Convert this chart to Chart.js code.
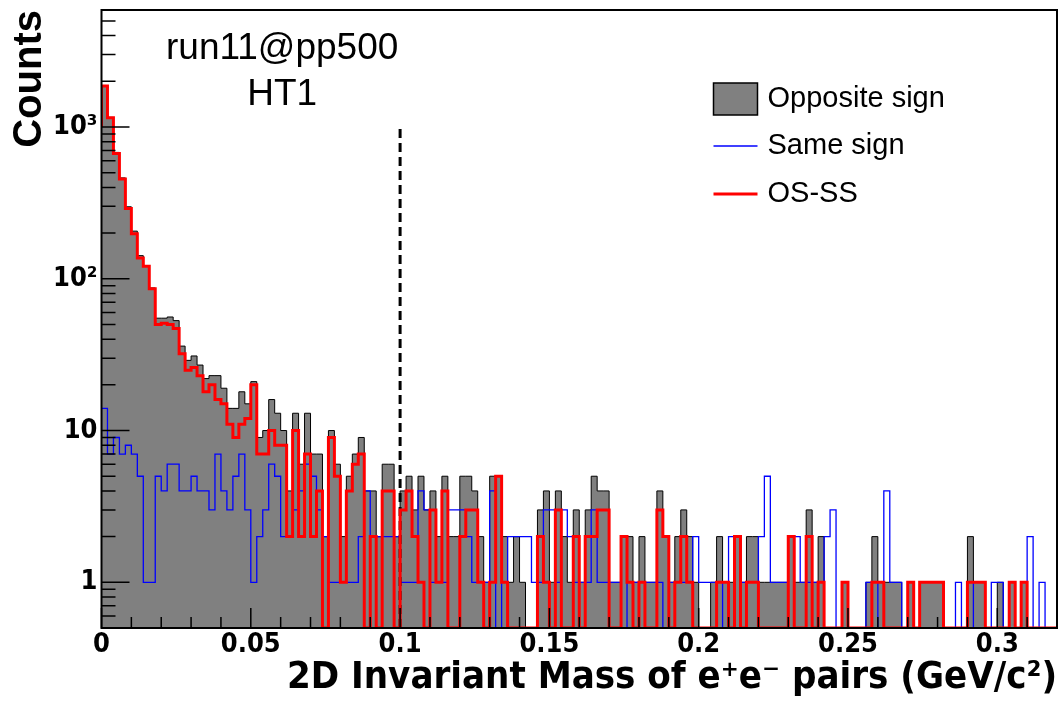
<!DOCTYPE html>
<html lang="en">
<head>
<meta charset="UTF-8">
<title>2D invariant mass of e+e- pairs</title>
<script src="https://cdn.jsdelivr.net/npm/chart.js"></script>
<style>
  html, body { margin: 0; padding: 0; background: #fff; }
</style>
</head>
<body>
<canvas id="massChart" width="1059" height="701"></canvas>
<script>
// histogram binning: 160 bins of 2 MeV from 0 to 0.32 GeV/c2
const binWidth = 0.002;
const xMax = 0.32;

// counts per bin
const oppositeSign = [
  1010, 1875, 1157, 680, 462, 298, 206, 142, 122, 87,
  55, 55, 56, 53, 36, 29, 31, 27, 22, 23,
  23, 19, 14, 14, 18, 15, 21, 9, 10, 16,
  13, 10, 4, 13, 6, 13, 7, 7, 2, 10,
  6, 2, 5, 7, 9, 4, 4, 2, 6, 6,
  2, 4, 5, 3, 5, 3, 4, 2, 5, 2,
  2, 5, 5, 4, 2, 1, 5, 5, 2, 1,
  2, 1, 0, 0, 3, 4, 1, 4, 2, 1,
  3, 1, 3, 5, 4, 4, 1, 1, 2, 2,
  1, 2, 1, 1, 4, 2, 1, 2, 3, 2,
  1, 0, 0, 1, 2, 1, 1, 2, 1, 2,
  2, 1, 1, 1, 1, 1, 2, 1, 1, 3,
  1, 2, 0, 0, 0, 1, 0, 0, 0, 1,
  2, 1, 1, 1, 1, 0, 1, 0, 1, 1,
  1, 1, 0, 0, 0, 0, 2, 1, 1, 0,
  0, 1, 0, 1, 0, 1, 0, 0, 0, 0
];
const sameSign = [
  9, 14, 7, 9, 7, 8, 7, 5, 1, 1,
  5, 4, 6, 6, 4, 4, 5, 4, 4, 3,
  7, 4, 3, 5, 7, 3, 1, 2, 3, 6,
  5, 2, 2, 3, 4, 6, 5, 3, 2, 1,
  1, 1, 1, 1, 2, 4, 2, 2, 2, 2,
  2, 1, 1, 1, 4, 3, 1, 1, 1, 3,
  3, 3, 2, 1, 1, 1, 4, 0, 1, 2,
  2, 2, 2, 1, 1, 3, 3, 1, 3, 2,
  1, 1, 1, 3, 1, 1, 1, 1, 0, 1,
  1, 1, 1, 1, 1, 0, 1, 1, 1, 1,
  2, 1, 1, 1, 1, 0, 2, 0, 1, 1,
  1, 2, 5, 1, 1, 1, 0, 2, 1, 1,
  1, 1, 2, 3, 0, 0, 0, 0, 0, 1,
  1, 0, 4, 1, 1, 0, 0, 0, 0, 0,
  0, 0, 0, 0, 1, 0, 1, 0, 0, 0,
  1, 1, 0, 0, 0, 0, 2, 0, 1, 0
];
const osMinusSs = [
  1000, 1860, 1150, 670, 455, 290, 198, 137, 121, 86,
  50, 51, 50, 47, 32, 25, 26, 23, 18, 20,
  16, 15, 11, 9, 11, 12, 20, 7, 7, 10,
  8, 8, 2, 10, 2, 7, 2, 4, 0, 9,
  5, 1, 4, 6, 7, 0, 2, 0, 4, 4,
  0, 3, 4, 2, 1, 0, 3, 1, 4, 0,
  0, 2, 3, 3, 1, 0, 1, 5, 1, 0,
  0, 0, 0, 0, 2, 1, 0, 3, 0, 0,
  2, 0, 2, 2, 3, 3, 0, 0, 2, 1,
  0, 1, 0, 0, 3, 2, 0, 1, 2, 1,
  0, 0, 0, 0, 1, 1, 0, 2, 0, 1,
  1, 0, 0, 0, 0, 0, 2, 0, 0, 2,
  0, 1, 0, 0, 0, 1, 0, 0, 0, 0,
  1, 1, 0, 0, 0, 0, 1, 0, 1, 1,
  1, 1, 0, 0, 0, 0, 1, 1, 1, 0,
  0, 0, 0, 1, 0, 1, 0, 0, 0, 0
];

// axes
const xTicks = [0, 0.05, 0.1, 0.15, 0.2, 0.25, 0.3];
const xTickLabels = ['0', '0.05', '0.1', '0.15', '0.2', '0.25', '0.3'];
const yTicks = [1, 10, 100, 1000];
const yTickLabels = ['1', '10', '10\u00B2', '10\u00B3'];
const yMin = 0.5;
const yMax = 5900;

// mass cut marker
const cutMass = 0.1;
const cutTop = 1000;

const narrowBold = "'Liberation Sans Narrow', 'Arial Narrow', 'DejaVu Sans Condensed', 'Liberation Sans', sans-serif";
const plainFont = "'Liberation Sans', Arial, Helvetica, sans-serif";

// bin contents -> step points at bin edges (zero bins sit on the axis floor)
function steps(vals) {
  const pts = vals.map((v, i) => ({ x: i * binWidth, y: Math.max(v, yMin) }));
  pts.push({ x: vals.length * binWidth, y: Math.max(vals[vals.length - 1], yMin) });
  return pts;
}

// frame, inward ticks, legend and labels like a ROOT canvas
const rootStyle = {
  id: 'rootStyle',
  afterDatasetsDraw(chart) {
    const { ctx, chartArea: a, scales: { x, y } } = chart;
    ctx.save();
    ctx.strokeStyle = '#000';
    ctx.lineWidth = 1.5;
    ctx.beginPath();
    for (let i = 0; i <= Math.round(xMax / 0.01); i++) {
      const px = x.getPixelForValue(i * 0.01);
      const len = (i % 5 === 0) ? 20 : 11;
      ctx.moveTo(px, a.bottom);
      ctx.lineTo(px, a.bottom - len);
    }
    for (let d = 0.1; d <= 1000; d *= 10) {
      for (let m = 1; m <= 9; m++) {
        const v = m * d;
        if (v < yMin || v > yMax) continue;
        const py = y.getPixelForValue(v);
        const len = (m === 1) ? 28 : 14;
        ctx.moveTo(a.left, py);
        ctx.lineTo(a.left + len, py);
      }
    }
    ctx.stroke();
    ctx.lineWidth = 2;
    ctx.strokeRect(a.left, a.top, a.right - a.left, a.bottom - a.top);

    // run label
    ctx.fillStyle = '#000';
    ctx.font = '37px ' + plainFont;
    ctx.textAlign = 'center';
    ctx.textBaseline = 'middle';
    const lx = x.getPixelForValue(0.0605);
    ctx.fillText('run11@pp500', lx, a.top + 39);
    ctx.fillText('HT1', lx, a.top + 85);

    // legend
    const bx = a.left + 612, bw = 44;
    const rows = [a.top + 89, a.top + 136, a.top + 184];
    ctx.fillStyle = '#808080';
    ctx.fillRect(bx, rows[0] - 16, bw, 32);
    ctx.lineWidth = 1.5;
    ctx.strokeRect(bx, rows[0] - 16, bw, 32);
    ctx.strokeStyle = '#0000ff';
    ctx.lineWidth = 1.3;
    ctx.beginPath(); ctx.moveTo(bx, rows[1]); ctx.lineTo(bx + bw, rows[1]); ctx.stroke();
    ctx.strokeStyle = '#ff0000';
    ctx.lineWidth = 3;
    ctx.beginPath(); ctx.moveTo(bx, rows[2]); ctx.lineTo(bx + bw, rows[2]); ctx.stroke();
    ctx.fillStyle = '#000';
    ctx.font = '29px ' + plainFont;
    ctx.textAlign = 'left';
    ctx.fillText('Opposite sign', bx + bw + 10, rows[0]);
    ctx.fillText('Same sign', bx + bw + 10, rows[1]);
    ctx.fillText('OS-SS', bx + bw + 10, rows[2]);
    ctx.restore();
  }
};

const ctx = document.getElementById('massChart');
const massChart = new Chart(ctx, {
  type: 'line',
  data: {
    datasets: [
      {
        label: 'OS-SS',
        data: steps(osMinusSs),
        stepped: 'after',
        borderColor: '#ff0000',
        borderWidth: 3,
        pointRadius: 0,
        fill: false,
        order: 0
      },
      {
        label: 'cut',
        data: [{ x: cutMass, y: yMin }, { x: cutMass, y: cutTop }],
        borderColor: '#000',
        borderWidth: 3,
        borderDash: [9, 5],
        pointRadius: 0,
        fill: false,
        order: 1
      },
      {
        label: 'Same sign',
        data: steps(sameSign),
        stepped: 'after',
        borderColor: '#0000ff',
        borderWidth: 1.3,
        pointRadius: 0,
        fill: false,
        order: 2
      },
      {
        label: 'Opposite sign',
        data: steps(oppositeSign),
        stepped: 'after',
        borderColor: '#000',
        borderWidth: 1,
        backgroundColor: '#808080',
        pointRadius: 0,
        fill: 'start',
        order: 3
      }
    ]
  },
  options: {
    responsive: false,
    animation: false,
    layout: { padding: { top: 10, right: 2, left: 0, bottom: 0 } },
    plugins: {
      legend: { display: false },
      tooltip: { enabled: false }
    },
    scales: {
      x: {
        type: 'linear',
        min: 0,
        max: xMax,
        afterBuildTicks: s => { s.ticks = xTicks.map(v => ({ value: v })); },
        afterFit: s => { s.height = 73; s.paddingLeft = 0; s.paddingRight = 0; },
        grid: { display: false, drawTicks: false },
        border: { display: false },
        ticks: {
          color: '#000',
          padding: 1,
          maxRotation: 0,
          autoSkip: false,
          font: { family: narrowBold, size: 27, weight: 'bold' },
          callback: (v, i) => xTickLabels[i]
        },
        title: {
          display: true,
          text: '2D Invariant Mass of e\u207Ae\u207B pairs (GeV/c\u00B2)',
          align: 'end',
          color: '#000',
          font: { family: narrowBold, size: 38, weight: 'bold', lineHeight: 1 },
          padding: { top: 0, bottom: 4 }
        }
      },
      y: {
        type: 'logarithmic',
        min: yMin,
        max: yMax,
        afterBuildTicks: s => { s.ticks = yTicks.map(v => ({ value: v })); },
        afterFit: s => { s.width = 101.5; s.paddingTop = 0; s.paddingBottom = 0; },
        grid: { display: false, drawTicks: false },
        border: { display: false },
        ticks: {
          color: '#000',
          padding: 4,
          autoSkip: false,
          font: { family: narrowBold, size: 27, weight: 'bold' },
          callback: (v, i) => yTickLabels[i]
        },
        title: {
          display: true,
          text: 'Counts',
          align: 'end',
          color: '#000',
          font: { family: plainFont, size: 40, weight: 'bold', lineHeight: 1 },
          padding: { top: 10, bottom: 0 }
        }
      }
    }
  },
  plugins: [rootStyle]
});
</script>
</body>
</html>
